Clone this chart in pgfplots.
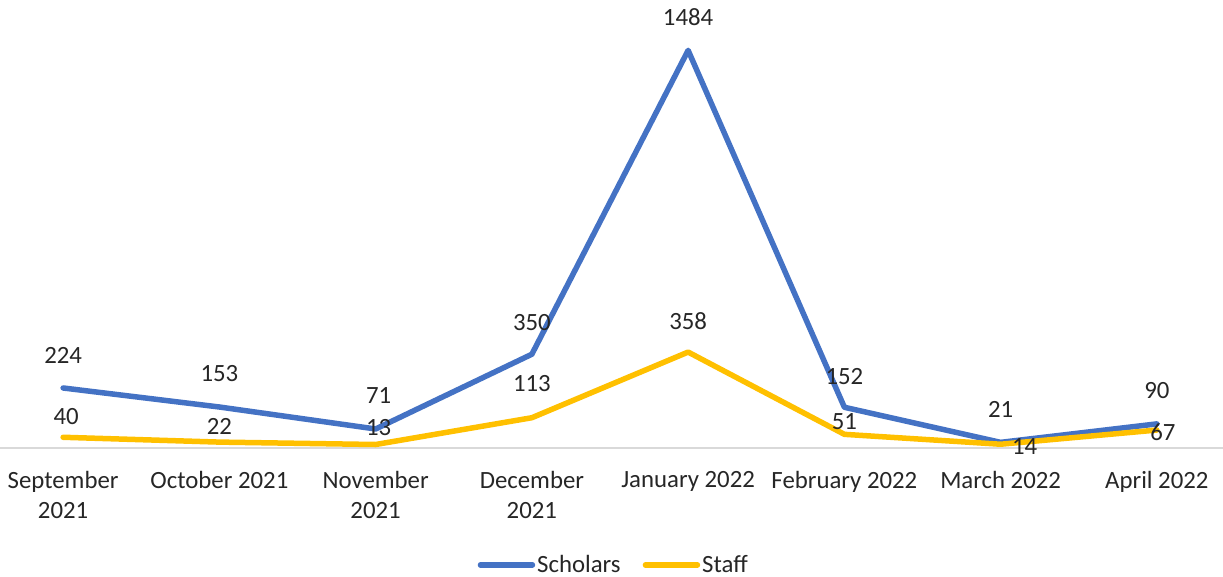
\documentclass[border=0pt]{standalone}
\usepackage{pgfplots}
\pgfplotsset{compat=1.18}
\usepackage{fontspec}
\setmainfont{Carlito}
\definecolor{scholars}{HTML}{4472C4}
\definecolor{staff}{HTML}{FFC000}
\definecolor{txt}{HTML}{262626}
\definecolor{axisgray}{HTML}{D9D9D9}
\newcommand{\chartfont}{\fontsize{24.8}{30}\selectfont}
\begin{document}
\begin{tikzpicture}
\begin{axis}[
  at={(-15pt,129pt)}, anchor=south west,
  scale only axis, width=1250pt, height=448pt,
  xmin=-0.5, xmax=7.5, ymin=0, ymax=1672,
  axis x line*=bottom, axis y line=none,
  x axis line style={draw=axisgray, line width=2pt},
  xtick={0,...,7}, major tick length=0pt,
  xticklabels={{September\\2021},{October 2021},{November\\2021},{December\\2021},{January 2022},{February 2022},{March 2022},{April 2022}},
  xticklabel style={align=center, anchor=north, inner sep=0pt, yshift=-23pt, font=\chartfont, text=txt},
  clip=false,
  point meta=explicit symbolic,
  nodes near coords,
  visualization depends on={\thisrow{dx} \as \myDx},
  visualization depends on={\thisrow{dy} \as \myDy},
  nodes near coords style={anchor=center, inner sep=0pt, xshift=\myDx pt, yshift=\myDy pt, font=\chartfont, text=txt},
  legend style={at={(0.503,-0.261)}, anchor=center, draw=none, fill=none, legend columns=2, font=\chartfont, text=txt,
    /tikz/every even column/.append style={column sep=20pt}},
  legend image code/.code={\draw[#1, line cap=round] (0pt,0pt) -- (52pt,0pt);},
]
\addplot[scholars, line width=5.5pt, line join=round, line cap=round] table[x=x, y=y, meta=lab] {
x y dx dy lab
0 224 0 33 224
1 153 0 33 153
2 71 3 33 71
3 350 0 32 350
4 1484 0 33 1484
5 152 0 31 152
6 21 0 33 21
7 90 0 33 90
};
\addlegendentry{Scholars}
\addplot[staff, line width=5.5pt, line join=round, line cap=round] table[x=x, y=y, meta=lab] {
x y dx dy lab
0 40 3 21 40
1 22 0 16 22
2 13 3 17 13
3 113 0 34 113
4 358 0 31 358
5 51 0 13 51
6 14 24 -2 14
7 67 6 -2 67
};
\addlegendentry{Staff}
\end{axis}
\pgfresetboundingbox
\path[use as bounding box] (0pt,0pt) rectangle (1223pt,577pt);
\end{tikzpicture}
\end{document}
